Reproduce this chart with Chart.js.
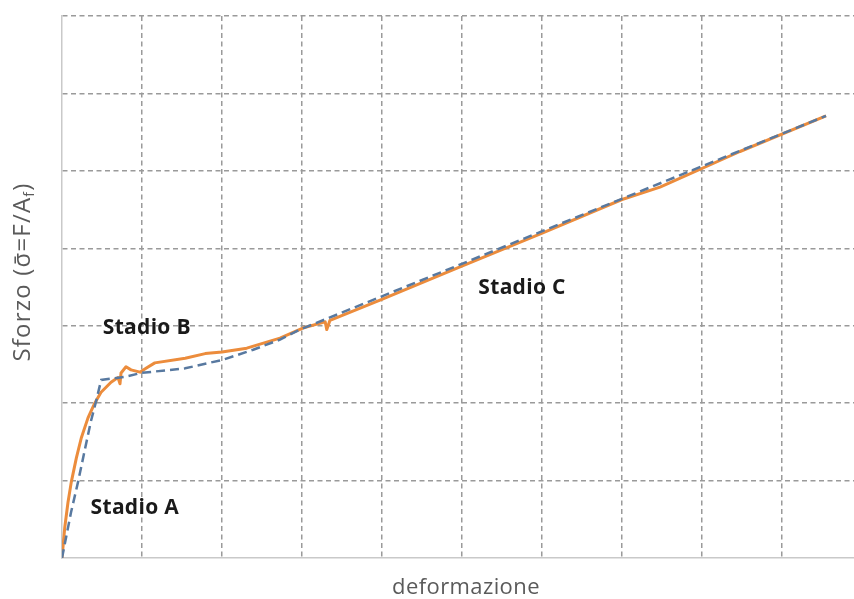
<!DOCTYPE html>
<html>
<head>
<meta charset="utf-8">
<script src="https://cdn.jsdelivr.net/npm/chart.js@4.4.0/dist/chart.umd.min.js"></script>
<style>
  html, body { margin: 0; padding: 0; background: #fff; }
  #wrap { width: 854px; height: 599px; }
</style>
</head>
<body>
<div id="wrap"><canvas id="c" width="854" height="599"></canvas></div>
<script>
// curva sperimentale (arancio) - deformazione / sforzo in unità di griglia
const expX = [0, 0.034, 0.075, 0.116, 0.179, 0.241, 0.325, 0.409, 0.488, 0.613, 0.70, 0.725, 0.738, 0.80, 0.863, 0.975, 1.05, 1.16,
              1.54, 1.79, 2.0, 2.31, 2.725, 3.01, 3.29, 3.31, 3.35, 3.975, 4.975, 6.01, 7.0, 7.475, 8.475, 9.55];
const expY = [0, 0.39, 0.72, 0.98, 1.29, 1.55, 1.81, 2.00, 2.14, 2.27, 2.33, 2.25, 2.39, 2.47, 2.43, 2.40, 2.45, 2.52,
              2.58, 2.64, 2.66, 2.71, 2.84, 2.97, 3.05, 2.95, 3.07, 3.33, 3.76, 4.20, 4.63, 4.79, 5.25, 5.71];

// modello trilineare (blu tratteggiato)
const modX = [0, 0.113, 0.2, 0.29, 0.36, 0.425, 0.49, 0.79, 0.99, 1.54, 2.01, 2.39, 2.725, 2.975, 9.55];
const modY = [0, 0.59, 0.98, 1.42, 1.76, 2.02, 2.30, 2.34, 2.39, 2.45, 2.56, 2.69, 2.82, 2.95, 5.71];

// griglia
const xTicks = [0, 1, 2, 3, 4, 5, 6, 7, 8, 9];
const yTicks = [0, 1, 2, 3, 4, 5, 6, 7];

// etichette degli stadi (coordinate nel grafico)
const stageNames = ['Stadio A', 'Stadio B', 'Stadio C'];
const stageX = [0.91, 1.06, 5.75];
const stageY = [0.65, 2.97, 3.49];

const toPts = (xs, ys) => xs.map((x, i) => ({ x: x, y: ys[i] }));

const textPlugin = {
  id: 'testi',
  afterDraw(chart) {
    const ctx = chart.ctx;
    const { x, y } = chart.scales;
    ctx.save();
    // etichette stadi
    ctx.fillStyle = '#1a1a1a';
    ctx.font = 'bold 21px "Open Sans"';
    ctx.textAlign = 'center';
    ctx.textBaseline = 'middle';
    ctx.letterSpacing = '0.3px';
    stageNames.forEach((s, i) => {
      ctx.fillText(s, x.getPixelForValue(stageX[i]), y.getPixelForValue(stageY[i]));
    });
    // asse x
    ctx.fillStyle = '#5a5a5a';
    ctx.font = '22px "Open Sans"';
    ctx.letterSpacing = '0.4px';
    ctx.fillText('deformazione', 466, 588);
    // asse y con pedice
    ctx.translate(23, 272);
    ctx.rotate(-Math.PI / 2);
    ctx.letterSpacing = '1.2px';
    const main = 'Sforzo (σ\u0304=F/A';
    const sub = 'f';
    const end = ')';
    ctx.font = '24px "Open Sans"';
    const wMain = ctx.measureText(main).width;
    const wEnd = ctx.measureText(end).width;
    ctx.font = '14px "Open Sans"';
    const wSub = ctx.measureText(sub).width;
    const total = wMain + wSub + wEnd;
    let cx = -total / 2;
    ctx.textAlign = 'left';
    ctx.font = '24px "Open Sans"';
    ctx.fillText(main, cx, 0);
    cx += wMain;
    ctx.font = '14px "Open Sans"';
    ctx.fillText(sub, cx, 7);
    cx += wSub;
    ctx.font = '24px "Open Sans"';
    ctx.fillText(end, cx, 0);
    ctx.restore();
  }
};

const gridColor = c => c.tick && c.tick.value === 0 ? 'rgba(0,0,0,0)' : '#9a9a9a';

new Chart(document.getElementById('c'), {
  type: 'scatter',
  data: {
    datasets: [
      {
        label: 'sperimentale',
        data: toPts(expX, expY),
        showLine: true,
        borderColor: '#ec8c3c',
        borderWidth: 3,
        pointRadius: 0,
        tension: 0,
        borderJoinStyle: 'round',
        order: 2
      },
      {
        label: 'modello',
        data: toPts(modX, modY),
        showLine: true,
        borderColor: '#5879a0',
        borderWidth: 2.5,
        borderDash: [9, 5],
        pointRadius: 0,
        tension: 0,
        order: 1
      }
    ]
  },
  options: {
    responsive: false,
    animation: false,
    layout: { padding: { left: 62, top: 16, right: 0, bottom: 41 } },
    plugins: { legend: { display: false }, tooltip: { enabled: false } },
    scales: {
      x: {
        type: 'linear', min: 0, max: 9.9,
        afterBuildTicks: s => { s.ticks = xTicks.map(v => ({ value: v })); },
        ticks: { display: false },
        grid: { color: gridColor, lineWidth: 1.5, drawTicks: false },
        border: { display: true, color: '#c9c9c9', width: 1.5, dash: [5, 3.5] }
      },
      y: {
        type: 'linear', min: 0, max: 7,
        afterBuildTicks: s => { s.ticks = yTicks.map(v => ({ value: v })); },
        ticks: { display: false },
        grid: { color: gridColor, lineWidth: 1.5, drawTicks: false },
        border: { display: true, color: '#c9c9c9', width: 1.5, dash: [5, 3.5] }
      }
    }
  },
  plugins: [textPlugin]
});
</script>
</body>
</html>
